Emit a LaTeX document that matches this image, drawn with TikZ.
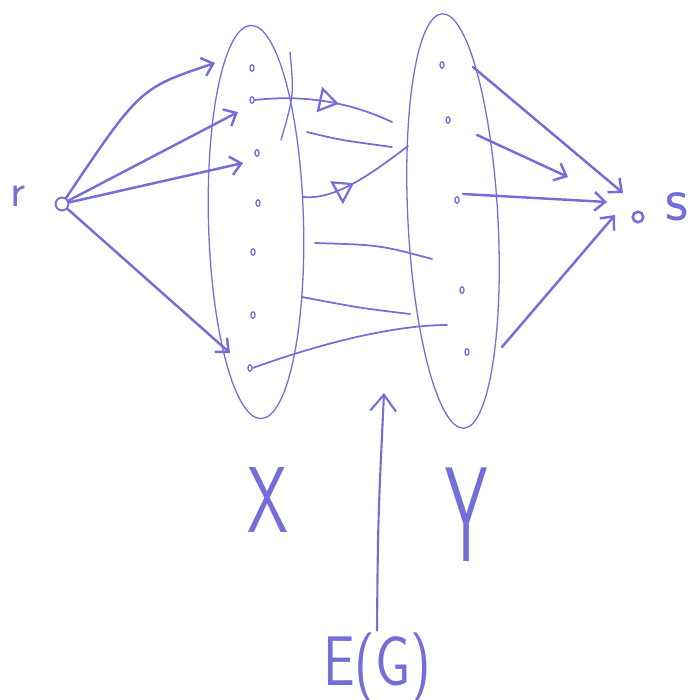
\documentclass[tikz,border=0pt]{standalone}
\usepackage{fontspec}
\usetikzlibrary{shapes.geometric,arrows.meta,decorations.markings}
\definecolor{penblue}{RGB}{115,110,218}

\begin{document}
\begin{tikzpicture}[
    x=0.03cm, y=-0.03cm,
    pen/.style={draw=penblue, line width=2.1pt, line cap=round},
    stroke/.style={draw=penblue, line width=1.5pt, line cap=round},
    vertex/.style={ellipse, draw=penblue, line width=1.1pt, inner sep=0pt, minimum width=3.5pt, minimum height=5.5pt},
    terminal/.style={circle, draw=penblue, line width=1.6pt, inner sep=0pt, minimum size=11pt},
    part/.style={ellipse, draw=penblue, line width=1.1pt, inner sep=0pt},
    flow/.style={pen, -{Straight Barb[length=9pt, width=16pt, line width=2.1pt]}},
    midtri/.style={postaction={decorate}, decoration={markings,
        mark=at position #1 with {\arrow{Triangle[open, length=17pt, width=22pt, line width=1.9pt]}}}},
    lbl/.style={text=penblue, font=\sffamily, inner sep=0pt}
]
    \useasboundingbox (0,0) rectangle (691,700);

    % the two sides
    \node[part, minimum width=2.85cm, minimum height=11.8cm, rotate=1.5] (X) at (256,222) {};
    \node[part, minimum width=2.7cm, minimum height=12.45cm, rotate=3] (Y) at (453,221) {};
    \draw[stroke, line width=1.1pt] (290,52) .. controls (294,95) .. (281,140);

    % vertices
    \foreach \i/\a/\b in {1/252/68, 2/252/100, 3/257/153, 4/258/203, 5/253/252, 6/253/315, 7/250/368}
        \node[vertex] (x\i) at (\a,\b) {};
    \foreach \i/\a/\b in {1/442/65, 2/448/120, 3/457/200, 4/462/290, 5/467/352}
        \node[vertex] (y\i) at (\a,\b) {};

    % source and sink
    \node[terminal] (r) at (62,204) {};
    \node[terminal, minimum size=9pt, line width=2.2pt] (s) at (638,217) {};
    \node[lbl, font=\sffamily\fontsize{40}{40}\selectfont] (rlbl) at (18,196) {r};
    \node[lbl, font=\sffamily\fontsize{54}{54}\selectfont] (slbl) at (677,207) {s};

    % edges out of r
    \coordinate (rx1) at (215,63);
    \coordinate (rx2) at (238,112);
    \coordinate (rx3) at (243,163);
    \coordinate (rx7) at (230,353);
    \draw[flow] (r) .. controls (140,88) .. (rx1);
    \draw[flow] (r) -- (rx2);
    \draw[flow] (r) -- (rx3);
    \draw[flow] (r) -- (rx7);

    % edges into s
    \coordinate (ys1) at (473,67);  \coordinate (sy1) at (623,193);
    \coordinate (ys2) at (477,135); \coordinate (sy2) at (568,177);
    \coordinate (ys3) at (463,194); \coordinate (sy3) at (607,202);
    \coordinate (ys5) at (502,347); \coordinate (sy5) at (615,215);
    \draw[flow] (ys1) -- (sy1);
    \draw[flow] (ys2) -- (sy2);
    \draw[flow] (ys3) -- (sy3);
    \draw[flow] (ys5) -- (sy5);

    % edges between X and Y
    \coordinate (m1) at (392,122);
    \coordinate (m2a) at (307,132); \coordinate (m2) at (392,147);
    \coordinate (m3a) at (303,197); \coordinate (m3) at (408,146);
    \coordinate (m4a) at (315,243); \coordinate (m4) at (432,259);
    \coordinate (m5a) at (302,297); \coordinate (m5) at (410,314);
    \coordinate (m6) at (447,325);
    \draw[stroke, midtri=0.6] (x2.east) .. controls (300,95) and (345,100) .. (m1);
    \draw[stroke] (m2a) .. controls (340,140) .. (m2);
    \draw[stroke, midtri=0.45] (m3a) .. controls (335,200) and (370,175) .. (m3);
    \draw[stroke] (m4a) .. controls (380,245) .. (m4);
    \draw[stroke] (m5a) .. controls (360,308) .. (m5);
    \draw[stroke] (x7.east) .. controls (330,340) and (400,325) .. (m6);

    % labels
    \node[lbl, font=\sffamily\fontsize{80}{80}\selectfont, xscale=0.7] (Xlbl) at (268,500) {X};
    \node[lbl, font=\sffamily\fontsize{96}{96}\selectfont, xscale=0.6, yscale=1.2] (Ylbl) at (467,515) {Y};
    \node[lbl, font=\sffamily\fontsize{60}{60}\selectfont, xscale=0.8] (EG) at (377,668) {E(G)};
    \coordinate (EGtip) at (384,393);
    \draw[pen, line width=1.8pt, -{Straight Barb[length=14pt, width=22pt, line width=1.8pt]}]
        (EG.north) ++(0,-2) .. controls (378,520) .. (EGtip);
\end{tikzpicture}
\end{document}
